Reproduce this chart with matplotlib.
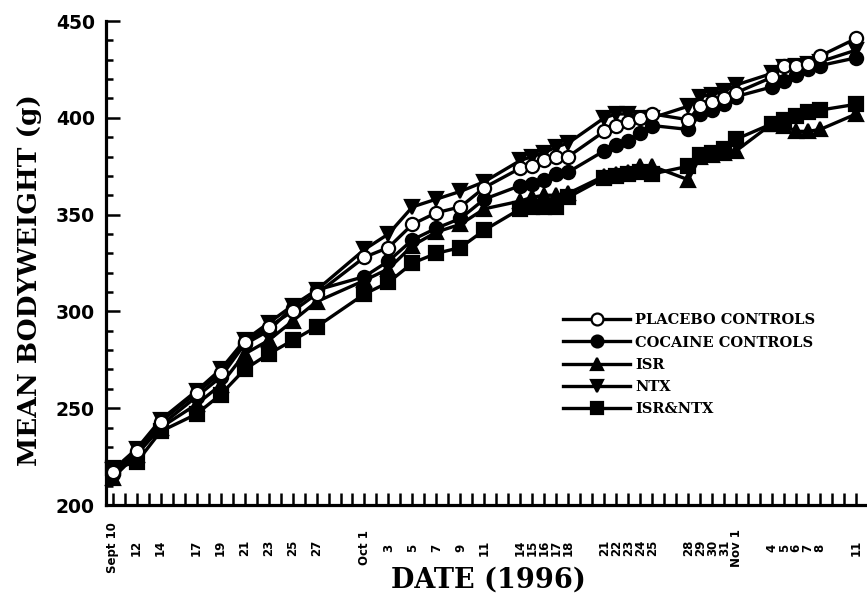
#Mean bodyweight of the five treatment groups, Sept - Nov 1996

import numpy as np
import pandas as pd
from matplotlib import pyplot as plt
from matplotlib.ticker import FixedLocator, MultipleLocator

# Weighing dates and their axis labels
dates = ['1996-09-10', '1996-09-12', '1996-09-14', '1996-09-17', '1996-09-19',
         '1996-09-21', '1996-09-23', '1996-09-25', '1996-09-27', '1996-10-01',
         '1996-10-03', '1996-10-05', '1996-10-07', '1996-10-09', '1996-10-11',
         '1996-10-14', '1996-10-15', '1996-10-16', '1996-10-17', '1996-10-18',
         '1996-10-21', '1996-10-22', '1996-10-23', '1996-10-24', '1996-10-25',
         '1996-10-28', '1996-10-29', '1996-10-30', '1996-10-31', '1996-11-01',
         '1996-11-04', '1996-11-05', '1996-11-06', '1996-11-07', '1996-11-08',
         '1996-11-11']
date_labels = ['Sept 10', '12', '14', '17', '19', '21', '23', '25', '27',
               'Oct 1', '3', '5', '7', '9', '11', '14', '15', '16', '17', '18',
               '21', '22', '23', '24', '25', '28', '29', '30', '31',
               'Nov 1', '4', '5', '6', '7', '8', '11']

# Mean bodyweight (g) per group
placebo = [217, 228, 243, 258, 268, 284, 292, 300, 309, 328, 333, 345, 351, 354,
           364, 374, 375, 378, 380, 380, 393, 396, 398, 400, 402, 399, 406, 408,
           410, 413, 421, 427, 427, 428, 432, 441]
cocaine = [216, 227, 241, 256, 266, 283, 290, 302, 311, 318, 326, 337, 343, 348,
           358, 365, 366, 368, 371, 372, 383, 386, 388, 392, 396, 394, 402, 404,
           407, 411, 416, 419, 422, 425, 427, 431]
isr = [214, 226, 240, 252, 262, 278, 285, 295, 305, 316, 322, 334, 341, 345,
       353, 357, 359, 360, 360, 361, 370, 371, 372, 375, 375, 368, 380, 381,
       382, 383, 397, 396, 393, 393, 394, 402]
ntx = [218, 229, 244, 259, 270, 285, 294, 303, 311, 332, 340, 354, 358, 362,
       367, 378, 380, 382, 385, 387, 400, 402, 402, 400, 400, 406, 411, 412,
       414, 417, 423, 426, 427, 428, 429, 435]
isr_ntx = [219, 222, 238, 247, 257, 270, 278, 285, 292, 309, 315, 325, 330, 333,
           342, 353, 354, 354, 354, 359, 369, 370, 371, 372, 371, 375, 381, 382,
           384, 389, 397, 399, 401, 403, 404, 407]

t = pd.to_datetime(dates)
days = np.array((t - t[0]).days)

fig = plt.figure(figsize=(8.67, 6.04), dpi=100)
ax = fig.add_axes([0.1223, 0.1639, 0.8777, 0.8013])

kw = dict(color='black', lw=2.4, markersize=9.5, markeredgewidth=1.6,
          markeredgecolor='black', clip_on=False)
ax.plot(days, cocaine, marker='o', markerfacecolor='black', label='COCAINE CONTROLS', **kw)
ax.plot(days, isr, marker='^', markerfacecolor='black', label='ISR', **kw)
ax.plot(days, ntx, marker='v', markerfacecolor='black', label='NTX', **kw)
ax.plot(days, isr_ntx, marker='s', markerfacecolor='black', label='ISR&NTX', **kw)
ax.plot(days, placebo, marker='o', markerfacecolor='white', label='PLACEBO CONTROLS', **kw)

ax.set_xlim(-0.55, 62.9)
ax.set_ylim(200, 450)

# spines
for s in ['top', 'right']:
    ax.spines[s].set_visible(False)
for s in ['left', 'bottom']:
    ax.spines[s].set_linewidth(2.3)

# x: a tick every day, labels on weighing days
ax.xaxis.set_major_locator(FixedLocator(days))
ax.xaxis.set_minor_locator(MultipleLocator(1))
ax.set_xticklabels(date_labels, rotation=90, va='center', ha='center',
                   fontsize=8.5, fontweight='bold', family='DejaVu Sans')
ax.tick_params(axis='x', which='both', direction='in', length=9, width=1.8, pad=31)

# y
ax.yaxis.set_major_locator(MultipleLocator(50))
ax.yaxis.set_minor_locator(MultipleLocator(10))
ax.tick_params(axis='y', which='major', direction='in', length=10, width=1.8, pad=8,
               labelsize=13.5)
ax.tick_params(axis='y', which='minor', direction='in', length=5, width=1.8)
for lab in ax.get_yticklabels():
    lab.set_fontweight('bold')

ax.set_xlabel('DATE (1996)', fontsize=19.5, fontweight='bold', family='DejaVu Serif')
ax.xaxis.set_label_coords(0.503, -0.128)
ax.set_ylabel('MEAN BODYWEIGHT (g)', fontsize=19, fontweight='bold', family='DejaVu Serif')
ax.yaxis.set_label_coords(-0.084, 0.465)

# legend in the group order of the study
h, l = ax.get_legend_handles_labels()
order = [4, 0, 1, 2, 3]
leg = ax.legend([h[i] for i in order], [l[i] for i in order],
                loc='upper left', bbox_to_anchor=(0.6005, 0.396), frameon=False,
                borderpad=0, borderaxespad=0, handlelength=4.6, handletextpad=0.35,
                labelspacing=0.56, markerscale=0.9,
                prop={'family': 'DejaVu Serif', 'weight': 'bold', 'size': 10.5})

plt.savefig('out.png', dpi=100)
